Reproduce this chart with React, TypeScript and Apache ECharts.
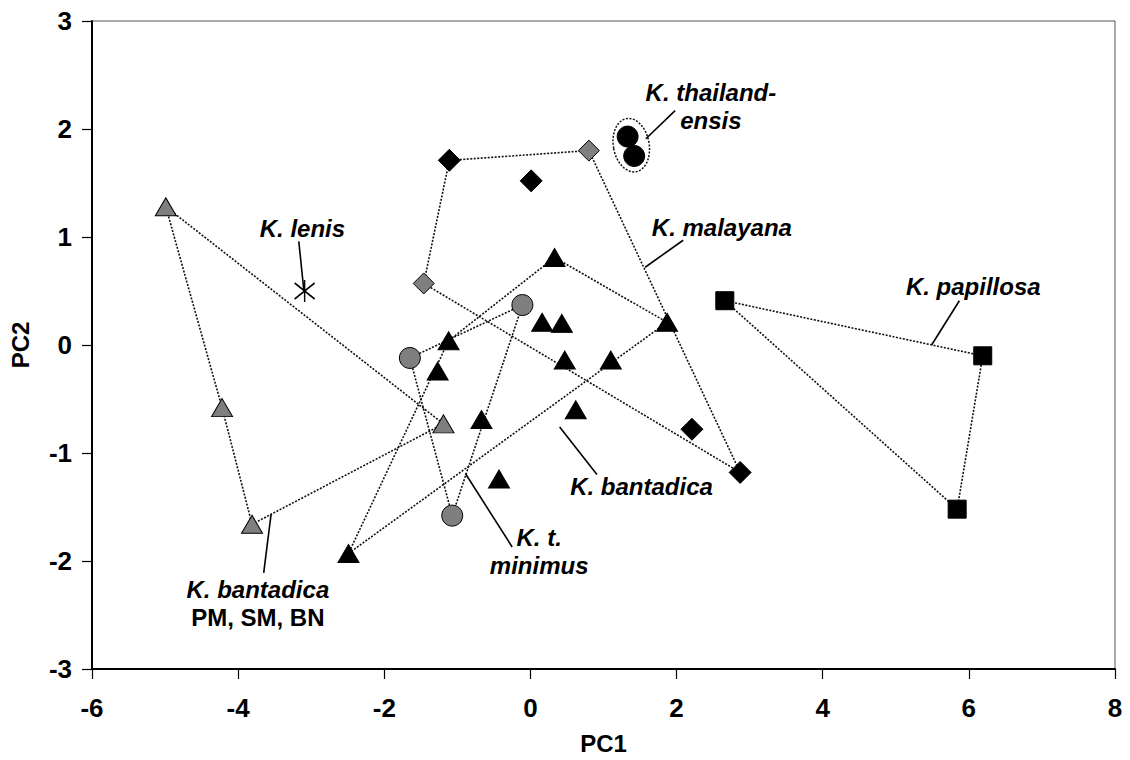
import React, { useEffect, useRef } from "react";
import * as echarts from "echarts";

// Axis settings
const xMin = -6, xMax = 8, xStep = 2;
const yMin = -3, yMax = 3, yStep = 1;

// Groups (PC1, PC2)
const bantadicaPMSMBN = [[-4.99, 1.28], [-4.22, -0.58], [-3.81, -1.66], [-1.19, -0.73]];
const lenis = [[-3.09, 0.5]];
const tMinimus = [[-1.65, -0.12], [-0.11, 0.37], [-1.07, -1.58]];
const bantadica = [
  [0.33, 0.81], [1.87, 0.21], [-1.12, 0.04], [-1.27, -0.24], [0.16, 0.21], [0.43, 0.2],
  [0.47, -0.14], [1.1, -0.14], [0.62, -0.6], [-0.67, -0.69], [-0.43, -1.24], [-2.49, -1.93],
];
const malayanaBlack = [[-1.11, 1.71], [0.01, 1.52], [2.21, -0.78], [2.87, -1.18]];
const malayanaGray = [[0.8, 1.8], [-1.46, 0.57]];
const thailandensis = [[1.33, 1.93], [1.42, 1.75]];
const papillosa = [[2.66, 0.41], [6.19, -0.1], [5.84, -1.52]];

// Convex hulls (ordered vertices, closed)
const hullPMSMBN = [bantadicaPMSMBN[0], bantadicaPMSMBN[3], bantadicaPMSMBN[2], bantadicaPMSMBN[1], bantadicaPMSMBN[0]];
const hullMinimus = [tMinimus[0], tMinimus[1], tMinimus[2], tMinimus[0]];
const hullBantadica = [bantadica[0], bantadica[1], bantadica[11], bantadica[2], bantadica[0]];
const hullMalayana = [malayanaBlack[0], malayanaGray[0], malayanaBlack[3], malayanaGray[1], malayanaBlack[0]];
const hullPapillosa = [papillosa[0], papillosa[1], papillosa[2], papillosa[0]];

// Ellipse around K. thailandensis: center, radii (data units)
const thaiEllipse = [[1.38, 1.85, 0.245, 0.25]];

// Annotations
const labelTexts = ["K. lenis", "K. thailand-\nensis", "K. malayana", "K. papillosa", "K. bantadica", "K. t.\nminimus"];
const labelAnchors = [[-3.12, 1.08], [2.47, 2.21], [2.62, 1.09], [6.06, 0.54], [1.52, -1.31], [0.12, -1.91]];
const subLabelText = "K. bantadica\n{n|PM, SM, BN}";
const subLabelAnchor = [-3.73, -2.39];
const leaders = [
  [[-3.17, 0.96], [-3.1, 0.5]],
  [[1.58, 1.91], [1.98, 2.17]],
  [[1.57, 0.72], [2.09, 0.97]],
  [[5.87, 0.41], [5.49, 0.0]],
  [[0.4, -0.76], [0.91, -1.2]],
  [[-0.89, -1.19], [-0.25, -1.87]],
  [[-3.55, -1.57], [-3.65, -2.11]],
];

const FONT = "'Liberation Sans', Arial, sans-serif";
const GRAY = "#7f7f7f";
const dotted = { color: "#111", width: 1.6, type: [2, 1.5] as any };

export default function App() {
  const ref = useRef<HTMLDivElement>(null);
  useEffect(() => {
    if (!ref.current) return;
    const chart = echarts.init(ref.current, undefined, { renderer: "svg" });

    const hullSeries = [hullPMSMBN, hullMinimus, hullBantadica, hullMalayana, hullPapillosa].map((h) => ({
      type: "line",
      data: h,
      symbol: "none",
      lineStyle: dotted,
      z: 2,
      silent: true,
    }));

    const leaderSeries = leaders.map((l) => ({
      type: "line",
      data: l,
      symbol: "none",
      lineStyle: { color: "#000", width: 1.6 },
      z: 2,
      silent: true,
    }));

    const mk = (data: number[][], symbol: string, size: any, fill: string) => ({
      type: "scatter",
      data,
      symbol,
      symbolSize: size,
      itemStyle: { color: fill, borderColor: "#000", borderWidth: 1, opacity: 1 },
      z: 5,
    });

    const labelStyle = {
      color: "#000",
      fontFamily: FONT,
      fontWeight: "bold",
      fontStyle: "italic",
      fontSize: 24,
      lineHeight: 28,
      align: "center",
      verticalAlign: "middle",
    };

    const option: any = {
      animation: false,
      backgroundColor: "#fff",
      grid: { left: 84, right: 15, top: 21, bottom: 87, show: true, borderColor: "#555", borderWidth: 1 },
      xAxis: {
        type: "value",
        min: xMin,
        max: xMax,
        interval: xStep,
        splitLine: { show: false },
        axisLine: { onZero: false, lineStyle: { color: "#000", width: 2 } },
        axisTick: { show: true, length: 10, lineStyle: { color: "#000", width: 1.2 } },
        axisLabel: { color: "#000", fontFamily: FONT, fontWeight: "bold", fontSize: 26, margin: 26 },
        name: "PC1",
        nameLocation: "middle",
        nameGap: 62,
        nameTextStyle: { color: "#000", fontFamily: FONT, fontWeight: "bold", fontSize: 24 },
      },
      yAxis: {
        type: "value",
        min: yMin,
        max: yMax,
        interval: yStep,
        splitLine: { show: false },
        axisLine: { onZero: false, lineStyle: { color: "#000", width: 2 } },
        axisTick: { show: true, length: 10, lineStyle: { color: "#000", width: 1.2 } },
        axisLabel: { color: "#000", fontFamily: FONT, fontWeight: "bold", fontSize: 26, margin: 20 },
        name: "PC2",
        nameLocation: "middle",
        nameGap: 60,
        nameTextStyle: { color: "#000", fontFamily: FONT, fontWeight: "bold", fontSize: 24 },
      },
      series: [
        ...hullSeries,
        ...leaderSeries,
        {
          type: "custom",
          data: thaiEllipse,
          z: 3,
          silent: true,
          renderItem: (params: any, api: any) => {
            const c = api.coord([api.value(0), api.value(1)]);
            const p1 = api.coord([api.value(0) + api.value(2), api.value(1)]);
            const p2 = api.coord([api.value(0), api.value(1) + api.value(3)]);
            return {
              type: "ellipse",
              x: c[0],
              y: c[1],
              rotation: 0.18,
              shape: { cx: 0, cy: 0, rx: Math.abs(p1[0] - c[0]), ry: Math.abs(p2[1] - c[1]) },
              style: { fill: "none", stroke: "#111", lineWidth: 1.5, lineDash: [2, 1.5] },
            };
          },
        },
        mk(bantadicaPMSMBN, "triangle", [21, 18], GRAY),
        mk(bantadica, "triangle", [21, 18], "#000"),
        mk(tMinimus, "circle", 21, GRAY),
        mk(malayanaBlack, "diamond", 22, "#000"),
        mk(malayanaGray, "diamond", 21, GRAY),
        mk(thailandensis, "circle", 21, "#000"),
        mk(papillosa, "rect", 18, "#000"),
        {
          type: "scatter",
          data: lenis,
          symbol: "path://M0,-11L0,11M-9,-8L9,8M-9,8L9,-8",
          symbolSize: [20, 22],
          itemStyle: { color: "none", borderColor: "#000", borderWidth: 1.5, opacity: 1 },
          z: 5,
        },
        {
          type: "scatter",
          data: labelAnchors.map((p, i) => ({ value: p, name: labelTexts[i] })),
          symbolSize: 0,
          silent: true,
          z: 6,
          itemStyle: { opacity: 1 },
          label: { show: true, position: "inside", formatter: (p: any) => p.name, ...labelStyle },
        },
        {
          type: "scatter",
          data: [{ value: subLabelAnchor, name: subLabelText }],
          symbolSize: 0,
          silent: true,
          z: 6,
          itemStyle: { opacity: 1 },
          label: {
            show: true,
            position: "inside",
            formatter: (p: any) => p.name,
            ...labelStyle,
            rich: {
              n: { fontFamily: FONT, fontWeight: "bold", fontStyle: "normal", fontSize: 24, lineHeight: 28, color: "#000" },
            },
          },
        },
      ],
    };
    chart.setOption(option);
    return () => chart.dispose();
  }, []);
  return <div ref={ref} style={{ width: 1130, height: 760, position: "absolute", left: 0, top: 0 }} />;
}
